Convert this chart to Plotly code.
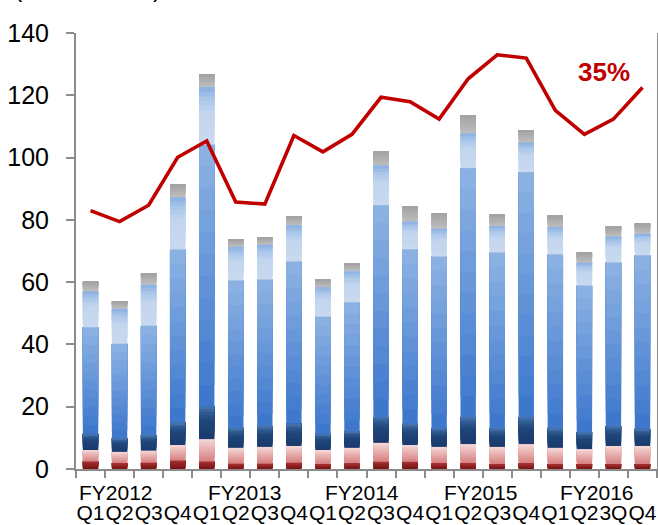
import plotly.graph_objects as go

# Quarterly shipments (million units), stacked by product segment, bottom to top
quarters = ["Q1", "Q2", "Q3", "Q4"] * 4 + ["Q1", "Q2", "3Q", "Q4"]
fiscal_years = ["FY2012", "FY2013", "FY2014", "FY2015", "FY2016"]

seg_dark_red = [2.4, 1.9, 2.0, 2.7, 2.4, 1.7, 1.7, 2.0, 1.6, 1.9,
                2.3, 2.3, 1.9, 1.9, 1.6, 1.9, 1.6, 1.6, 1.6, 1.6]
seg_pink = [3.7, 3.6, 3.9, 5.0, 7.2, 5.1, 5.4, 5.4, 4.5, 4.9,
            6.1, 5.4, 5.2, 6.1, 5.5, 6.1, 5.2, 4.8, 5.8, 5.8]
seg_navy = [5.2, 4.4, 5.0, 7.3, 10.4, 6.4, 6.7, 7.2, 5.2, 5.4,
            8.3, 6.8, 6.0, 8.7, 6.0, 8.7, 6.4, 5.5, 6.4, 5.5]
seg_blue = [34.2, 30.3, 35.1, 55.5, 84.1, 47.3, 47.0, 52.0, 37.6, 41.3,
            68.0, 56.0, 55.1, 79.9, 56.4, 78.6, 55.7, 47.0, 52.5, 55.7]
seg_light = [11.6, 11.3, 13.2, 16.8, 18.6, 10.9, 11.3, 11.7, 9.5, 10.0,
             12.8, 9.0, 9.0, 11.2, 8.5, 9.6, 8.8, 7.4, 8.4, 7.0]
seg_gray = [3.0, 2.3, 3.6, 4.1, 4.1, 2.3, 2.2, 2.8, 2.4, 2.5,
            4.5, 4.8, 4.8, 5.8, 3.7, 3.9, 3.7, 3.2, 3.2, 3.2]

# Share (%) plotted against the right-hand 0-40% axis
share_pct = [23.7, 22.7, 24.2, 28.6, 30.1, 24.5, 24.3, 30.6, 29.1, 30.7,
             34.1, 33.7, 32.1, 35.8, 38.0, 37.7, 32.9, 30.7, 32.1, 35.0]

x_pos = list(range(len(quarters)))

# Vertical colour ramps for each segment: (fraction from segment bottom, colour)
segments = [
    (seg_dark_red, [(0.0, "#781414"), (1.0, "#a42e2e")]),
    (seg_pink, [(0.0, "#d67f7f"), (0.6, "#e9b4b4"), (1.0, "#f5d8d8")]),
    (seg_navy, [(0.0, "#1a3a6c"), (0.55, "#1f4579"), (0.8, "#2f5a92"), (1.0, "#4a77b0")]),
    (seg_blue, [(0.0, "#3b75cc"), (0.5, "#6495d8"), (1.0, "#8fb3e3")]),
    (seg_light, [(0.0, "#c8d9ef"), (0.55, "#c3d6ee"), (0.8, "#a9c6ea"), (1.0, "#88afe2")]),
    (seg_gray, [(0.0, "#bdbdbd"), (1.0, "#a2a2a2")]),
]
SLICES = 12


def hex_to_rgb(h):
    h = h.lstrip("#")
    return tuple(int(h[i:i + 2], 16) for i in (0, 2, 4))


def ramp(stops, t):
    for (t0, c0), (t1, c1) in zip(stops, stops[1:]):
        if t <= t1:
            f = 0 if t1 == t0 else (t - t0) / (t1 - t0)
            a, b = hex_to_rgb(c0), hex_to_rgb(c1)
            return "rgb({},{},{})".format(*[round(a[k] + (b[k] - a[k]) * f) for k in range(3)])
    return "rgb({},{},{})".format(*hex_to_rgb(stops[-1][1]))


fig = go.Figure()

# Each segment is painted bottom-up as overlapping bands: every band runs from
# its own start to the segment top, and the next band covers its upper part,
# which gives a seamless vertical gradient.
bottoms = [0.0] * len(x_pos)
for values, stops in segments:
    for j in range(SLICES):
        fig.add_trace(go.Bar(
            x=x_pos,
            base=[b + v * j / SLICES for b, v in zip(bottoms, values)],
            y=[v * (SLICES - j) / SLICES for v in values],
            marker=dict(color=ramp(stops, (j + 0.5) / SLICES), line=dict(width=0)),
            showlegend=False,
            hoverinfo="skip",
        ))
    bottoms = [b + v for b, v in zip(bottoms, values)]

fig.add_trace(go.Scatter(
    x=x_pos, y=share_pct, yaxis="y2", mode="lines",
    line=dict(color="#c00000", width=3.6),
    showlegend=False,
))

axis_gray = "#8c8c8c"
font_family = "Liberation Sans, Arial, sans-serif"

fig.update_layout(
    width=658, height=525,
    margin=dict(l=76, r=1, t=33, b=56),
    paper_bgcolor="white", plot_bgcolor="white",
    barmode="overlay", bargap=0.47,
    font=dict(family=font_family, color="black"),
    xaxis=dict(
        range=[-0.5, len(quarters) - 0.5],
        tickmode="array", tickvals=x_pos, ticktext=quarters,
        tickangle=0, automargin=False,
        ticks="", showgrid=False, zeroline=False,
        showline=True, linecolor=axis_gray, linewidth=2,
        tickfont=dict(size=21, color="black"),
        ticklabelstandoff=24,
        minor=dict(tickvals=[i - 0.5 for i in range(len(quarters) + 1)],
                   ticks="outside", ticklen=7, tickwidth=2, tickcolor=axis_gray),
    ),
    yaxis=dict(
        range=[0, 140], tickmode="array", tickvals=list(range(0, 141, 20)),
        ticks="outside", ticklen=8, tickwidth=2, tickcolor=axis_gray,
        showline=True, linecolor=axis_gray, linewidth=2,
        showgrid=False, zeroline=False, automargin=False,
        tickfont=dict(size=25, color="black"),
        ticklabelstandoff=12,
    ),
    yaxis2=dict(
        range=[0, 40], overlaying="y", side="right",
        showline=True, linecolor=axis_gray, linewidth=2, automargin=False,
        showticklabels=False, ticks="", showgrid=False, zeroline=False,
    ),
)

# Fiscal-year captions directly under the axis
fy_centers = [0.86, 5.33, 9.35, 13.44, 17.42]
for fy, xc in zip(fiscal_years, fy_centers):
    fig.add_annotation(x=xc, xref="x", y=-0.053, yref="paper", text=fy,
                       showarrow=False, xanchor="center", yanchor="middle",
                       font=dict(size=21, color="black", family=font_family))

fig.add_annotation(x=17.66, xref="x", y=36.4, yref="y2", text="<b>35%</b>",
                   showarrow=False, xanchor="center", yanchor="middle",
                   font=dict(size=26, color="#c00000", family=font_family))

fig.add_annotation(x=-0.11, xref="paper", y=1.066, yref="paper", text="(Million units)",
                   showarrow=False, xanchor="left", yanchor="bottom",
                   font=dict(size=25, color="black", family=font_family))

fig.write_html("out.html")
